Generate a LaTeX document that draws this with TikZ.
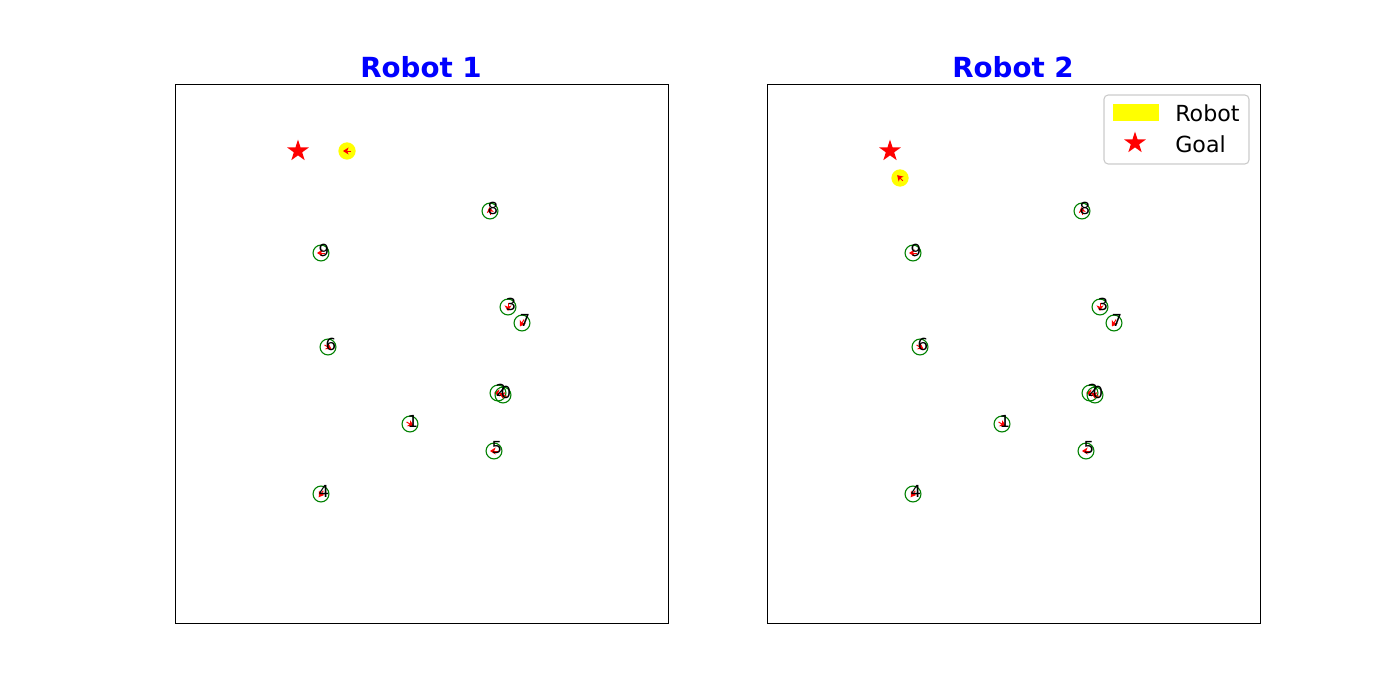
\documentclass[tikz,border=0pt]{standalone}
\usepackage{fontspec}
\setmainfont{DejaVu Sans}
\usetikzlibrary{arrows.meta,shapes.geometric}

\definecolor{mplgreen}{HTML}{008000}
\definecolor{mplblue}{HTML}{0000FF}
\definecolor{mplyellow}{HTML}{FFFF00}

\tikzset{
	obst/.style={circle, draw=mplgreen, line width=0.8pt, inner sep=0pt, minimum size=11.5pt},
	robot/.style={circle, fill=mplyellow, inner sep=0pt, minimum size=12.5pt},
	goal/.style={star, star points=5, star point ratio=2.618, fill=red, inner sep=0pt, minimum size=16.5pt},
	heading/.style={red, line width=0.7pt, -{Stealth[length=4pt,width=5pt,inset=1pt]}},
	idlabel/.style={font=\fontsize{12}{14}\selectfont, inner sep=0pt},
	paneltitle/.style={font=\fontsize{20}{24}\selectfont\bfseries, text=mplblue}
}

\begin{document}
\begin{tikzpicture}[x=0.01in, y=-0.01in]
	\useasboundingbox (0,0) rectangle (1400,700);
	
	% dos paneles con los mismos obstaculos
	\foreach \p/\dx in {1/0,2/592} {
		\draw[line width=0.6pt] (175+\dx,84) rectangle (668+\dx,623);
		\node[paneltitle] (title\p) at (421+\dx,67) {Robot \p};
		\foreach \i/\x/\y/\a in {8/490/211/-100, 9/321/253/180, 3/508/307/90, 7/522/323/120,
			6/328/347/30, 2/498/393/180, 0/503/395/200, 1/410/424/30, 5/494/451/180, 4/321/494/125} {
			\node[obst] (r\p o\i) at (\x+\dx,\y) {};
			\draw[heading] ([shift={(\a+180:4)}]r\p o\i.center) -- ([shift={(\a:4)}]r\p o\i.center);
			\node[idlabel] (r\p l\i) at (\x+\dx+3,\y-3) {\i};
		}
	}
	
	\node[goal] (goal1) at (298,151) {};
	\node[robot] (robot1) at (347,151) {};
	\draw[heading] ([shift={(0:4)}]robot1.center) -- ([shift={(180:4)}]robot1.center);
	
	\node[goal] (goal2) at (890,151) {};
	\node[robot] (robot2) at (900,178) {};
	\draw[heading] ([shift={(45:4)}]robot2.center) -- ([shift={(-135:4)}]robot2.center);
	
	% leyenda
	\draw[draw=black!20, fill=white, rounded corners=3pt, line width=0.8pt] (1104,95) rectangle (1249,164);
	\fill[mplyellow] (1113,104) rectangle (1159,121);
	\node[goal] (legstar) at (1135,143) {};
	\node[anchor=west, font=\fontsize{16}{19}\selectfont, inner sep=0pt] (legrobot) at (1175,113) {Robot};
	\node[anchor=west, font=\fontsize{16}{19}\selectfont, inner sep=0pt] (leggoal) at (1175,144) {Goal};
\end{tikzpicture}
\end{document}
